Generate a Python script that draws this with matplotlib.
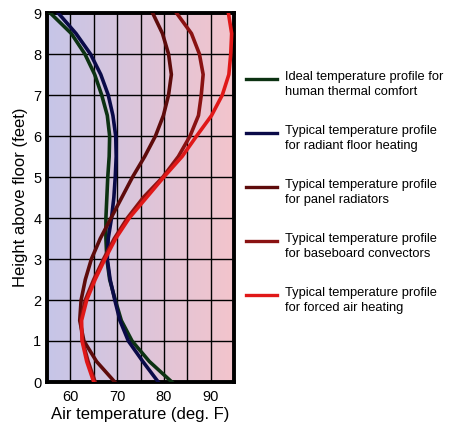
import numpy as np
from matplotlib import pyplot as plt
from matplotlib.colors import LinearSegmentedColormap
from matplotlib.lines import Line2D

plt.rcParams['font.family'] = ['Liberation Sans', 'DejaVu Sans']

# heights above floor (feet)
heights = [0, 0.5, 1, 1.5, 2, 2.5, 3, 3.5, 4, 4.5, 5, 5.5, 6, 6.5, 7, 7.5, 8, 8.5, 9]

# air temperatures (deg F) at each height
ideal = [81.7, 76.9, 73.2, 70.9, 69.6, 68.4, 67.8, 67.6, 67.6, 67.8, 68.0, 68.3, 68.4, 67.9, 66.7, 65.2, 63.1, 60.2, 55.7]
radiant_floor = [78.8, 75.5, 72.4, 70.6, 69.5, 68.5, 67.9, 68.1, 68.8, 69.3, 69.6, 69.8, 69.7, 69.1, 68.1, 66.5, 64.3, 61.2, 57.4]
panel = [69.5, 65.6, 62.9, 62.0, 62.3, 63.2, 64.5, 66.4, 68.7, 71.0, 73.3, 75.9, 78.2, 79.9, 81.0, 81.6, 81.0, 79.7, 77.6]
baseboard = [65.3, 63.8, 62.6, 62.2, 63.2, 65.0, 67.1, 69.4, 72.2, 75.6, 79.8, 83.1, 85.6, 87.4, 88.0, 88.4, 87.6, 85.9, 82.7]
forced_air = [65.0, 63.5, 62.5, 62.4, 63.5, 65.3, 67.4, 69.7, 72.6, 76.3, 80.0, 83.9, 87.0, 90.2, 92.5, 93.9, 94.3, 94.5, 93.8]

labels = ["Ideal temperature profile for\nhuman thermal comfort",
          "Typical temperature profile\nfor radiant floor heating",
          "Typical temperature profile\nfor panel radiators",
          "Typical temperature profile\nfor baseboard convectors",
          "Typical temperature profile\nfor forced air heating"]
colors = ['#0c3212', '#0a0a48', '#5e0b0b', '#8a1212', '#e01818']
series = [ideal, radiant_floor, panel, baseboard, forced_air]

fig = plt.figure(figsize=(4.54, 4.32), dpi=100)
ax = fig.add_axes([47/454, 1-382/432, 187/454, 369/432])

# background gradient blue -> pink
cmap = LinearSegmentedColormap.from_list('bg', ['#c6c6e8', '#f3c4cc'])
grad = np.linspace(0, 1, 256).reshape(1, -1)
ax.imshow(grad, extent=[55, 95, 0, 9], aspect='auto', cmap=cmap, zorder=0)

for s, c in zip(series, colors):
    ax.plot(s, heights, color=c, lw=2.6, solid_joinstyle='round', zorder=3)

ax.set_xlim(55, 95)
ax.set_ylim(0, 9)
ax.set_xticks(np.arange(55, 96, 5))
ax.set_xticklabels(['' if v % 10 else str(v) for v in range(55, 96, 5)])
ax.set_yticks(range(0, 10))
ax.grid(True, color='black', lw=1.0, zorder=2)
ax.set_axisbelow(False)
ax.tick_params(length=0, labelsize=10.5)
ax.tick_params(axis='x', pad=6)
ax.tick_params(axis='y', pad=4)
for sp in ax.spines.values():
    sp.set_linewidth(2.8)

ax.set_xlabel("Air temperature (deg. F)", fontsize=12, labelpad=2)
ax.set_ylabel("Height above floor (feet)", fontsize=12, labelpad=4)

# legend to the right
for i, (lab, c) in enumerate(zip(labels, colors)):
    yc = 1 - (79.3 + 54.0 * i) / 432
    fig.add_artist(Line2D([246/454, 277/454], [yc, yc], color=c, lw=2.4,
                          transform=fig.transFigure))
    fig.text(285/454, yc + 8/432, lab, fontsize=9.3, va='top', ha='left',
             linespacing=1.3, transform=fig.transFigure)

fig.savefig('out.png', dpi=100)
